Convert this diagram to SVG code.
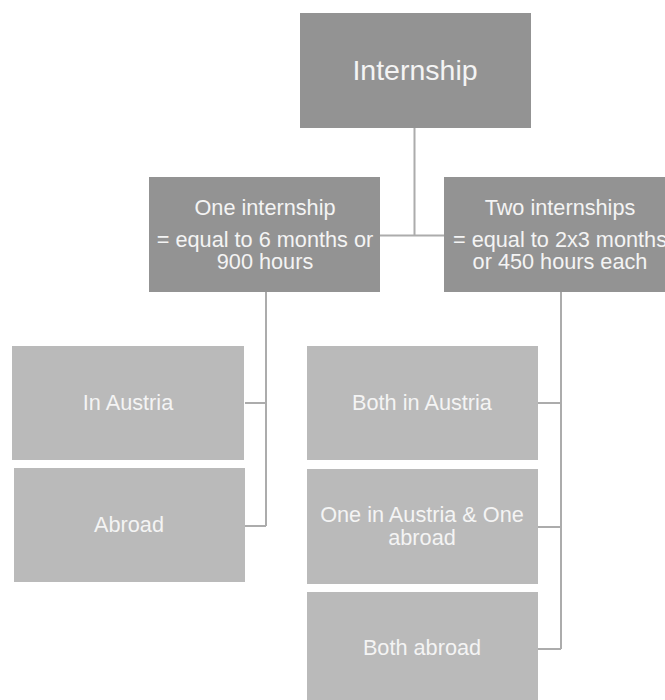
<svg xmlns="http://www.w3.org/2000/svg" width="665" height="700" viewBox="0 0 665 700">
<style>
.dark{fill:#939393}
.light{fill:#bababa}
text{font-family:"Liberation Sans",Arial,sans-serif;fill:#f4f4f4;text-anchor:middle;font-size:21.7px}
.big{font-size:28.5px}
.conn{stroke:#acacac;stroke-width:2;fill:none}
</style>
<rect width="665" height="700" fill="#ffffff"/>
<g id="connectors">
<path class="conn" d="M414.5 128 V235.5 M380 235.5 H444"/>
<path class="conn" d="M266 292 V526 M245 403 H266 M245 526 H266"/>
<path class="conn" d="M561 292 V649 M538 403 H561 M538 527 H561 M538 649 H561"/>
</g>
<g id="internship"><rect class="dark" x="300" y="13" width="231" height="115"/><text class="big" x="415" y="80">Internship</text></g>
<g id="one-internship"><rect class="dark" x="149" y="177" width="231" height="115"/>
<text x="265" y="215">One internship</text><text x="265" y="247">= equal to 6 months or</text><text x="265" y="269">900 hours</text></g>
<g id="two-internships"><rect class="dark" x="444" y="177" width="231" height="115"/>
<text x="560" y="215">Two internships</text><text x="560" y="247">= equal to 2x3 months</text><text x="560" y="269">or 450 hours each</text></g>
<g id="in-austria"><rect class="light" x="12" y="346" width="232" height="114"/><text x="128" y="410">In Austria</text></g>
<g id="abroad"><rect class="light" x="14" y="468" width="231" height="114"/><text x="129" y="532">Abroad</text></g>
<g id="both-austria"><rect class="light" x="307" y="346" width="231" height="114"/><text x="422" y="410">Both in Austria</text></g>
<g id="one-each"><rect class="light" x="307" y="469" width="231" height="115"/><text x="422" y="522">One in Austria &amp; One</text><text x="422" y="545">abroad</text></g>
<g id="both-abroad"><rect class="light" x="307" y="592" width="231" height="115"/><text x="422" y="655">Both abroad</text></g>
</svg>
